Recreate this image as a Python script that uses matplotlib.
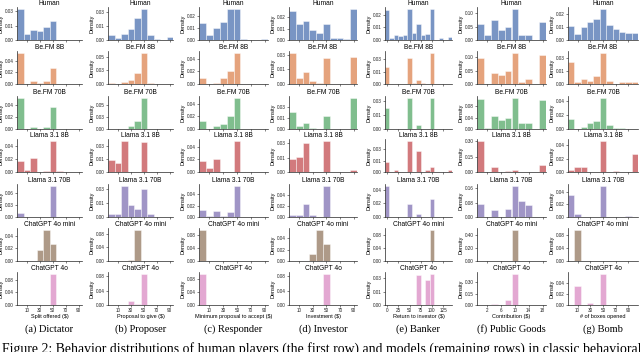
import matplotlib
matplotlib.use("Agg")
import matplotlib.pyplot as plt
import numpy as np
from matplotlib.ticker import FormatStrFormatter, MaxNLocator

plt.rcParams["font.family"] = ["Liberation Sans", "DejaVu Sans"]

# Linhas (modelos) e colunas (jogos)
models = ["Human", "Be.FM 8B", "Be.FM 70B", "Llama 3.1 8B", "Llama 3.1 70B",
          "ChatGPT 4o mini", "ChatGPT 4o"]
colors = ["#4C72B0", "#DD8452", "#55A868", "#C44E52", "#8172B3", "#937860", "#DA8BC3"]

games = ["(a) Dictator", "(b) Proposer", "(c) Responder", "(d) Investor",
         "(e) Banker", "(f) Public Goods", "(g) Bomb"]
xlabels = ["Split offered ($)", "Proposal to give ($)", "Minimum proposal to accept ($)",
           "Investment ($)", "Return to investor ($)", "Contribution ($)", "# of boxes opened"]

# centros dos bins e largura de cada jogo
bin_centers = [
    [0, 10, 20, 30, 40, 50, 60, 70, 80, 90],
    [0, 10, 20, 30, 40, 50, 60, 70, 80, 90],
    [0, 10, 20, 30, 40, 50, 60, 70, 80, 90],
    [0, 10, 20, 30, 40, 50, 60, 70, 80, 90],
    [0, 10, 20, 30, 40, 50, 60, 70, 80, 90, 100, 110, 120, 130, 140],
    [0, 2, 4, 6, 8, 10, 12, 14, 16, 18],
    [0, 10, 20, 30, 40, 50, 60, 70, 80, 90, 100],
]
bin_widths = [10, 10, 10, 10, 10, 2, 10]
xticks = [
    [10, 30, 50, 70, 90],
    [10, 30, 50, 70, 90],
    [10, 30, 50, 70, 90],
    [10, 30, 50, 70, 90],
    [0, 25, 50, 75, 100, 125],
    [2, 6, 10, 14, 18],
    [10, 30, 50, 70, 90],
]

# densidades: dictator[modelo][bin]
dictator = [
    [0.033, 0.006, 0.010, 0.009, 0.014, 0.020, 0.0003, 0.0002, 0.0002, 0.0003],
    [0.054, 0, 0.005, 0.002, 0.005, 0.027, 0, 0, 0, 0],
    [0.052, 0, 0.004, 0, 0.004, 0.036, 0, 0, 0, 0],
    [0.017, 0.003, 0.022, 0, 0.001, 0.048, 0.001, 0, 0, 0],
    [0.009, 0.0003, 0.0003, 0, 0.001, 0.078, 0, 0, 0, 0],
    [0, 0, 0, 0.017, 0.050, 0.027, 0, 0, 0, 0],
    [0, 0, 0, 0, 0, 0.100, 0, 0, 0, 0],
]
proposer = [
    [0.005, 0.002, 0.006, 0.012, 0.024, 0.034, 0.005, 0.001, 0.0003, 0.003],
    [0.002, 0, 0.004, 0.008, 0.020, 0.058, 0.001, 0, 0, 0],
    [0.001, 0, 0.001, 0.006, 0.016, 0.066, 0.001, 0, 0, 0.001],
    [0.014, 0.010, 0.036, 0, 0, 0.034, 0, 0, 0, 0],
    [0.003, 0.003, 0.034, 0.013, 0.009, 0.030, 0.003, 0, 0, 0],
    [0, 0, 0, 0.002, 0.092, 0, 0, 0, 0, 0],
    [0, 0, 0, 0.010, 0.002, 0.087, 0, 0, 0, 0],
]
responder = [
    [0.014, 0.004, 0.010, 0.015, 0.026, 0.026, 0.001, 0.0002, 0.0002, 0.001],
    [0.010, 0, 0.002, 0.010, 0.021, 0.050, 0, 0, 0, 0],
    [0.012, 0, 0.004, 0.008, 0.020, 0.050, 0, 0, 0, 0],
    [0.018, 0.007, 0.020, 0, 0, 0.050, 0, 0, 0, 0],
    [0.013, 0.001, 0.010, 0.001, 0.008, 0.055, 0, 0, 0, 0],
    [0.098, 0, 0, 0, 0, 0, 0, 0, 0, 0],
    [0.097, 0, 0, 0, 0, 0, 0, 0, 0, 0],
]
investor = [
    [0.020, 0.011, 0.013, 0.007, 0.005, 0.011, 0.0015, 0.0012, 0.0005, 0.022],
    [0.032, 0.006, 0.012, 0.003, 0.001, 0.026, 0, 0, 0, 0.028],
    [0.023, 0.004, 0.008, 0.001, 0, 0.017, 0, 0, 0, 0.042],
    [0.014, 0.016, 0.030, 0, 0, 0.033, 0, 0, 0, 0.002],
    [0.004, 0.003, 0.023, 0.003, 0, 0.056, 0, 0, 0, 0],
    [0, 0, 0, 0.013, 0.055, 0.030, 0, 0, 0, 0],
    [0, 0, 0, 0, 0.001, 0.088, 0, 0, 0, 0],
]
banker = [
    [0.019, 0.001, 0.003, 0.0025, 0.003, 0.020, 0.0045, 0.010, 0.003, 0.004, 0.020, 0.0003, 0.001, 0.0003, 0.002],
    [0.020, 0, 0, 0, 0, 0.032, 0.001, 0.005, 0.001, 0, 0.038, 0, 0, 0, 0],
    [0.023, 0, 0, 0, 0, 0.034, 0, 0.004, 0, 0, 0.034, 0, 0, 0, 0],
    [0.013, 0, 0.002, 0, 0, 0.041, 0, 0.027, 0, 0.002, 0.006, 0, 0, 0, 0.002],
    [0.046, 0, 0, 0, 0, 0.019, 0, 0.004, 0, 0, 0.026, 0, 0, 0, 0],
    [0, 0, 0, 0, 0, 0, 0, 0, 0, 0, 0.097, 0, 0, 0, 0],
    [0, 0, 0, 0, 0, 0, 0, 0.033, 0, 0.028, 0.035, 0, 0, 0, 0],
]
public_goods = [
    [0.060, 0.020, 0.075, 0.038, 0.048, 0.118, 0.020, 0.020, 0, 0.068],
    [0.098, 0, 0.043, 0.035, 0.047, 0.118, 0.007, 0.020, 0, 0.108],
    [0.105, 0.005, 0.045, 0.030, 0.040, 0.110, 0.020, 0.022, 0, 0.100],
    [0.305, 0, 0.045, 0, 0.005, 0.015, 0, 0, 0, 0.070],
    [0.070, 0, 0.037, 0, 0.042, 0.175, 0.088, 0.065, 0, 0],
    [0, 0, 0, 0, 0, 0.480, 0, 0, 0, 0],
    [0, 0, 0.010, 0, 0.060, 0.410, 0, 0, 0, 0],
]
bomb = [
    [0.009, 0.0037, 0.0078, 0.011, 0.013, 0.0196, 0.0094, 0.0067, 0.0047, 0.0043, 0.0043],
    [0.025, 0.002, 0.006, 0.004, 0.009, 0.036, 0.003, 0.0005, 0.002, 0.002, 0.002],
    [0.015, 0, 0.003, 0.008, 0.012, 0.045, 0.006, 0.001, 0.001, 0, 0],
    [0.003, 0.008, 0.007, 0, 0, 0.047, 0, 0.001, 0, 0, 0.027],
    [0.035, 0.004, 0, 0, 0, 0.050, 0, 0, 0, 0.002, 0],
    [0.001, 0.095, 0, 0, 0, 0, 0, 0, 0, 0, 0],
    [0, 0.033, 0, 0.004, 0, 0.056, 0, 0, 0, 0, 0],
]
all_games = [dictator, proposer, responder, investor, banker, public_goods, bomb]

# Layout em pixels (figura 640x352)
W, H = 640, 352
col_left = [17, 108, 199, 289, 385, 477, 568]
col_right = [82, 173, 268, 357, 452, 546, 638]
row_top = [7, 51, 96, 139, 184, 228, 272]
row_h = 33

fig = plt.figure(figsize=(6.4, 3.52), dpi=100)

for j in range(7):
    centers = np.array(bin_centers[j])
    w = bin_widths[j]
    for i in range(7):
        x0 = col_left[j] / W
        y0 = 1 - (row_top[i] + row_h) / H
        ax = fig.add_axes([x0, y0, (col_right[j] - col_left[j]) / W, row_h / H])
        ax.bar(centers, all_games[j][i], width=w, color=colors[i], alpha=0.75,
               edgecolor="white", linewidth=0.4)
        ax.set_xlim(centers[0] - w / 2, centers[-1] + w / 2)
        ax.set_ylim(0, max(all_games[j][i]) * 1.05)
        ax.set_xticks(xticks[j])
        ax.yaxis.set_major_locator(MaxNLocator(nbins=3))
        ax.yaxis.set_major_formatter(FormatStrFormatter("%.2f"))
        ax.tick_params(labelsize=3.3, length=1.5, width=0.4, pad=0.8, colors="#222222")
        for s in ["top", "right"]:
            ax.spines[s].set_visible(False)
        for s in ["left", "bottom"]:
            ax.spines[s].set_linewidth(0.5)
            ax.spines[s].set_color("#222222")
        ax.set_ylabel("Density", fontsize=4, labelpad=0.8)
        ax.set_title(models[i], fontsize=4.8, pad=1.5)
        if i < 6:
            ax.set_xticklabels([])
        else:
            ax.set_xlabel(xlabels[j], fontsize=4, labelpad=0.5)
    fig.text((col_left[j] + col_right[j]) / 2 / W, 1 - 329 / H, games[j],
             ha="center", va="center", fontsize=7.5, family="Liberation Serif")

fig.text(0.003, 1 - 342 / H,
         "Figure 2: Behavior distributions of human players (the first row) and models "
         "(remaining rows) in classic behavioral",
         ha="left", va="top", fontsize=9.9, family="Liberation Serif")

fig.savefig("out.png", dpi=100)
